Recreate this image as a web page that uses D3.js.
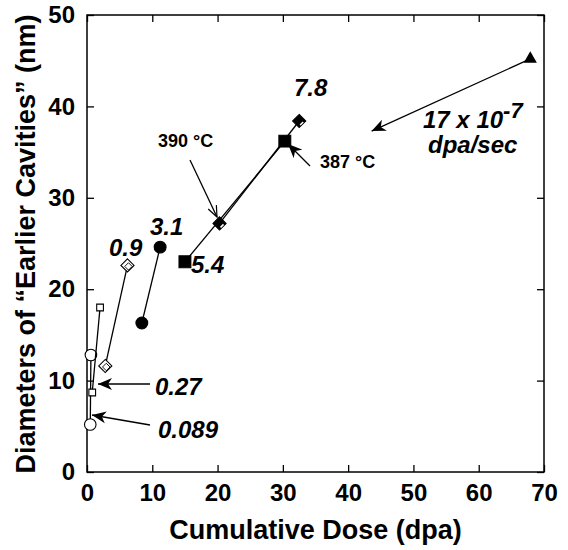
<!DOCTYPE html>
<html>
<head>
<meta charset="utf-8">
<script src="https://cdn.jsdelivr.net/npm/d3@7"></script>
<style>
  body { margin: 0; background: #fff; }
  text { font-family: "Liberation Sans", Arial, sans-serif; font-weight: bold; }
</style>
</head>
<body>
<svg id="chart" width="568" height="550"></svg>
<script>
// %%%%%%%%%%%%%%%%%%%%
// % Data             %
// %%%%%%%%%%%%%%%%%%%%

// each series = two points [dose (dpa), diameter (nm)]
var circOpen   = [[0.5, 5.2], [0.6, 12.8]];     // 0.089
var sqOpen     = [[0.8, 8.7], [2.0, 18.0]];     // 0.27
var diaOpen    = [[2.8, 11.6], [6.2, 22.6]];    // 0.9
var circFilled = [[8.4, 16.3], [11.2, 24.6]];   // 3.1
var sqFilled   = [[15.0, 23.0], [30.3, 36.2]];  // 5.4
var diaHalf    = [[20.3, 27.2], [32.5, 38.4]];  // 7.8
var triFilled  = [[43.6, 37.3], [67.9, 45.2]];  // 17

var xTicks = [0, 10, 20, 30, 40, 50, 60, 70];
var yTicks = [0, 10, 20, 30, 40, 50];

var svg = d3.select("#chart"),
    margin = {left: 87, right: 24, top: 15, bottom: 78},
    width = +svg.attr("width"),
    height = +svg.attr("height");

var x = d3.scaleLinear().domain([0, 70]).range([margin.left, width - margin.right]);
var y = d3.scaleLinear().domain([0, 50]).range([height - margin.bottom, margin.top]);

// %%%%%%%%%%%%%%%%%%%%
// % Arrow markers    %
// %%%%%%%%%%%%%%%%%%%%

var defs = svg.append("defs");
defs.append("marker")
    .attr("id", "headFill")
    .attr("viewBox", "-14 -7 15 14")
    .attr("markerWidth", 15).attr("markerHeight", 14)
    .attr("markerUnits", "userSpaceOnUse")
    .attr("refX", 0).attr("refY", 0)
    .attr("orient", "auto")
    .append("path")
    .attr("d", "M0,0 L-14,-6 L-10,0 L-14,6 Z")
    .attr("fill", "#000");
defs.append("marker")
    .attr("id", "headOpen")
    .attr("viewBox", "-12 -6 13 12")
    .attr("markerWidth", 13).attr("markerHeight", 12)
    .attr("markerUnits", "userSpaceOnUse")
    .attr("refX", 0).attr("refY", 0)
    .attr("orient", "auto")
    .append("path")
    .attr("d", "M-11,-4.5 L0,0 L-11,4.5")
    .attr("fill", "none").attr("stroke", "#000").attr("stroke-width", 1.2);

// %%%%%%%%%%%%%%%%%%%%
// % Frame & axes     %
// %%%%%%%%%%%%%%%%%%%%

svg.append("rect")
    .attr("x", x(0)).attr("y", y(50))
    .attr("width", x(70) - x(0)).attr("height", y(0) - y(50))
    .attr("fill", "none").attr("stroke", "#000").attr("stroke-width", 1.5);

svg.append("g").attr("transform", "translate(0," + y(0) + ")")
    .call(d3.axisBottom(x).tickValues(xTicks).tickSize(-7).tickPadding(12))
    .call(styleAxis);
svg.append("g").attr("transform", "translate(0," + y(50) + ")")
    .call(d3.axisTop(x).tickValues(xTicks).tickSize(-7).tickFormat(""))
    .call(styleAxis);
svg.append("g").attr("transform", "translate(" + x(0) + ",0)")
    .call(d3.axisLeft(y).tickValues(yTicks).tickSize(-7).tickPadding(12))
    .call(styleAxis);
svg.append("g").attr("transform", "translate(" + x(70) + ",0)")
    .call(d3.axisRight(y).tickValues(yTicks).tickSize(-7).tickFormat(""))
    .call(styleAxis);

function styleAxis(g) {
    g.select(".domain").remove();
    g.selectAll(".tick line").attr("stroke-width", 1.3);
    g.selectAll(".tick text").attr("font-size", 24).attr("fill", "#000")
        .style("font-family", "Liberation Sans, Arial, sans-serif").style("font-weight", "bold");
}

svg.append("text")
    .attr("x", (x(0) + x(70)) / 2).attr("y", 539)
    .attr("text-anchor", "middle").attr("font-size", 27)
    .text("Cumulative Dose (dpa)");

svg.append("text")
    .attr("transform", "translate(35,244) rotate(-90)")
    .attr("text-anchor", "middle").attr("font-size", 27)
    .text("Diameters of \u201CEarlier Cavities\u201D (nm)");

// %%%%%%%%%%%%%%%%%%%%
// % Series           %
// %%%%%%%%%%%%%%%%%%%%

var line = d3.line().x(d => x(d[0])).y(d => y(d[1]));
var plot = svg.append("g");

function drawSeries(data, shape, size, fill) {
    plot.append("path")
        .datum(data)
        .attr("d", line)
        .attr("fill", "none").attr("stroke", "#000").attr("stroke-width", 1.3);
    plot.selectAll(null)
        .data(data)
        .enter()
        .append("path")
        .attr("transform", d => "translate(" + x(d[0]) + "," + y(d[1]) + ")")
        .attr("d", d3.symbol().type(shape).size(size))
        .attr("fill", fill).attr("stroke", "#000").attr("stroke-width", 1.1);
}

drawSeries(circOpen, d3.symbolCircle, 105, "#fff");
drawSeries(sqOpen, d3.symbolSquare, 45, "#fff");
drawSeries(diaOpen, d3.symbolDiamond2, 110, "#fff");
drawSeries(circFilled, d3.symbolCircle, 110, "#000");
drawSeries(sqFilled, d3.symbolSquare, 140, "#000");
drawSeries(diaHalf, d3.symbolDiamond2, 110, "#000");

// inner outline of the open diamonds
plot.selectAll(null)
    .data(diaOpen)
    .enter()
    .append("path")
    .attr("transform", d => "translate(" + (x(d[0]) + 1) + "," + (y(d[1]) + 1) + ")")
    .attr("d", d3.symbol().type(d3.symbolDiamond2).size(35))
    .attr("fill", "none").attr("stroke", "#000").attr("stroke-width", 0.9);

// white stripe in the half filled diamonds
plot.selectAll(null)
    .data(diaHalf)
    .enter()
    .append("line")
    .attr("x1", d => x(d[0]) + 1).attr("y1", d => y(d[1]) + 4)
    .attr("x2", d => x(d[0]) + 4).attr("y2", d => y(d[1]) + 1)
    .attr("stroke", "#fff").attr("stroke-width", 1.5);

// triangles: upper is a marker, lower end is an arrow head
plot.append("path")
    .datum(triFilled.slice().reverse())
    .attr("d", line)
    .attr("fill", "none").attr("stroke", "#000").attr("stroke-width", 1.3)
    .attr("marker-end", "url(#headFill)");
plot.append("path")
    .attr("transform", "translate(" + x(triFilled[1][0]) + "," + y(triFilled[1][1]) + ")")
    .attr("d", d3.symbol().type(d3.symbolTriangle).size(75));

// %%%%%%%%%%%%%%%%%%%%
// % Annotations      %
// %%%%%%%%%%%%%%%%%%%%

var labels = [
    {t: "0.089", px: 158, py: 438},
    {t: "0.27",  px: 155, py: 395},
    {t: "0.9",   px: 109, py: 256},
    {t: "3.1",   px: 150, py: 235},
    {t: "5.4",   px: 191, py: 273},
    {t: "7.8",   px: 294, py: 96}
];
svg.selectAll(".lab")
    .data(labels)
    .enter()
    .append("text")
    .attr("class", "lab")
    .attr("x", d => d.px).attr("y", d => d.py)
    .attr("font-size", 24).attr("font-style", "italic")
    .text(d => d.t);

var rate = svg.append("text").attr("font-size", 24).attr("font-style", "italic");
rate.append("tspan").attr("x", 423).attr("y", 128).text("17 x 10");
rate.append("tspan").attr("dy", -10).attr("font-size", 22).text("-7");
svg.append("text").attr("x", 428).attr("y", 153)
    .attr("font-size", 24).attr("font-style", "italic").text("dpa/sec");

svg.append("text").attr("x", 158).attr("y", 147).attr("font-size", 18).text("390 \u00B0C");
svg.append("text").attr("x", 320).attr("y", 168).attr("font-size", 18).text("387 \u00B0C");

var arrows = [
    {x1: 150, y1: 384, x2: 98, y2: 384, m: "headFill"},
    {x1: 150, y1: 425, x2: 92, y2: 415, m: "headFill"},
    {x1: 310, y1: 166, x2: 288, y2: 144, m: "headFill"},
    {x1: 190, y1: 160, x2: 217, y2: 217, m: "headOpen"}
];
svg.selectAll(".arr")
    .data(arrows)
    .enter()
    .append("line")
    .attr("class", "arr")
    .attr("x1", d => d.x1).attr("y1", d => d.y1)
    .attr("x2", d => d.x2).attr("y2", d => d.y2)
    .attr("stroke", "#000").attr("stroke-width", 1.3)
    .attr("marker-end", d => "url(#" + d.m + ")");
</script>
</body>
</html>
